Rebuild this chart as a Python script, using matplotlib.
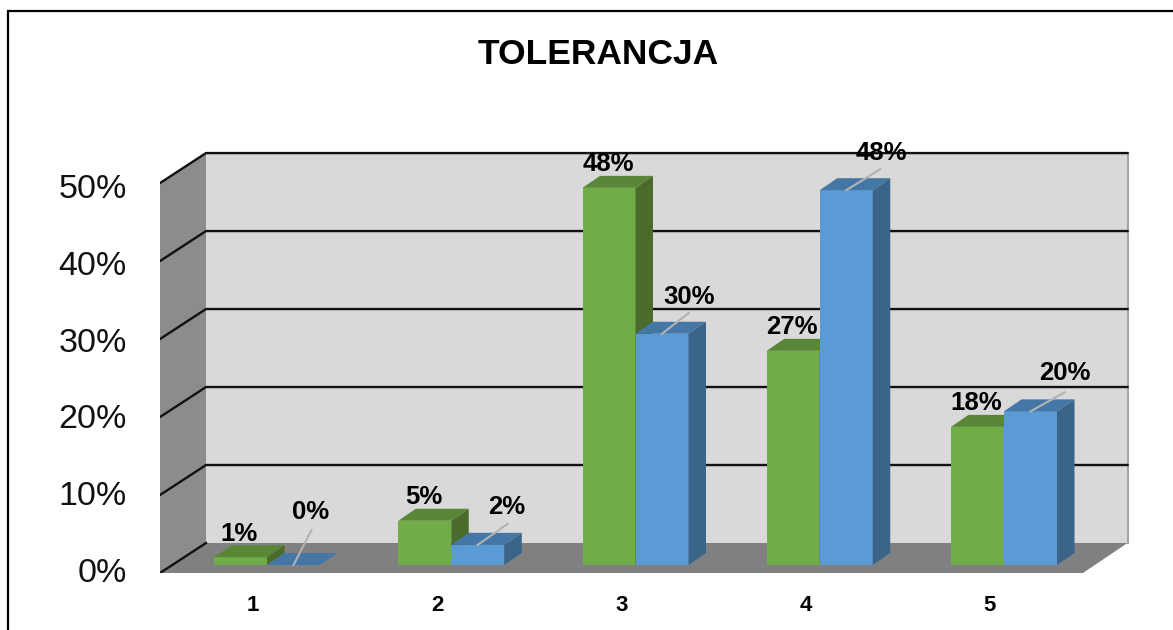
import matplotlib
matplotlib.use("Agg")
import matplotlib.pyplot as plt
from matplotlib.lines import Line2D
from matplotlib.patches import Polygon

plt.rcParams['font.family'] = ['Liberation Sans', 'DejaVu Sans']

# values
categories = [1, 2, 3, 4, 5]
green_values = [1.0, 5.7, 48.6, 27.6, 17.8]
blue_values = [0.0, 2.6, 29.8, 48.3, 19.8]
green_labels = ["1%", "5%", "48%", "27%", "18%"]
blue_labels = ["0%", "2%", "30%", "48%", "20%"]
y_ticks = [0, 10, 20, 30, 40, 50]
y_tick_labels = ["0%", "10%", "20%", "30%", "40%", "50%"]

W, H = 1173, 630
PX_X = 184.25   # pixels per category
PX_Y = 7.76     # pixels per percent

fig = plt.figure(figsize=(W / 100, H / 100), dpi=100)
ax = fig.add_axes([160 / W, (H - 573) / H, (W - 160) / W, 573 / H])
ax.set_xlim(1 - 107 / PX_X, 1 + 906 / PX_X)
ax.set_ylim(0, 573 / PX_Y)
for s in ax.spines.values():
    s.set_visible(False)
ax.patch.set_visible(False)


def dx(px):
    return px / PX_X


def dy(px):
    return px / PX_Y


# walls and floor
x0 = ax.get_xlim()[0]
x_front_r = x0 + dx(923)
wall_dx, wall_dy = dx(46), dy(30)
x_back_l = x0 + wall_dx
x_back_r = x_front_r + dx(44.5)
top = 50.25

ax.add_patch(Polygon([(x0, 0), (x_back_l, wall_dy), (x_back_l, wall_dy + top), (x0, top)],
                     fc="#8c8c8c", ec="none", zorder=1))
ax.add_patch(Polygon([(x_back_l, wall_dy), (x_back_r, wall_dy), (x_back_r, wall_dy + top), (x_back_l, wall_dy + top)],
                     fc="#d9d9d9", ec="none", zorder=1))
ax.add_patch(Polygon([(x0, 0), (x_front_r, 0), (x_back_r, wall_dy), (x_back_l, wall_dy)],
                     fc="#808080", ec="none", zorder=1))
ax.plot([x_back_r, x_back_r], [wall_dy, wall_dy + top], color="#a6a6a6", lw=1.5, zorder=2)

# gridlines
for t in y_ticks:
    yy = t * 50.25 / 50
    ax.plot([x0, x_back_l, x_back_r if t > 0 else x_back_l], [yy, yy + wall_dy, yy + wall_dy],
            color="#111111", lw=1.7, zorder=2, solid_joinstyle="miter")

# bars
bar_w = dx(53)
base = dy(8)
depth_x, depth_y = dx(17.5), dy(12)


def draw_bars(xs, values, face, roof, side):
    ax.bar(xs, values, width=bar_w, bottom=base, color=face, zorder=3)
    for x, v in zip(xs, values):
        l, r = x - bar_w / 2, x + bar_w / 2
        t = base + v
        ax.add_patch(Polygon([(l, t), (r, t), (r + depth_x, t + depth_y), (l + depth_x, t + depth_y)],
                             fc=roof, ec="none", zorder=3))
        ax.add_patch(Polygon([(r, base), (r + depth_x, base + depth_y), (r + depth_x, t + depth_y), (r, t)],
                             fc=side, ec="none", zorder=3))


x_green = [c - bar_w / 2 for c in categories]
x_blue = [c + bar_w / 2 for c in categories]

# category by category, so a later bar hides the side of the one before
for i in range(len(categories)):
    draw_bars([x_green[i]], [green_values[i]], "#70ad47", "#5a8638", "#4a6b2c")
    draw_bars([x_blue[i]], [blue_values[i]], "#5b9bd5", "#4577a6", "#3a6488")

# data labels, offsets in pixels from the top of the front face
blue_label_off = [(17, 53), (29, 38), (27, 37), (35, 37), (34, 38)]
blue_leader_end = [(18, 35), (30, 21), (27, 21), (34, 21), (34, 19)]

for x, v, lab in zip(x_green, green_values, green_labels):
    ax.annotate(lab, (x, base + v), xytext=(-1 * 0.72, 23.5 * 0.72), textcoords="offset points",
                ha="center", va="center", fontsize=18.5, fontweight="bold", color="black",
                annotation_clip=False, zorder=5)

for x, v, lab, off, end in zip(x_blue, blue_values, blue_labels, blue_label_off, blue_leader_end):
    t = base + v
    ax.plot([x, x + dx(end[0])], [t, t + dy(end[1])], color="#b3b3b3", lw=1.5, zorder=4)
    ax.annotate(lab, (x, t), xytext=(off[0] * 0.72, off[1] * 0.72), textcoords="offset points",
                ha="center", va="center", fontsize=18.5, fontweight="bold", color="black",
                annotation_clip=False, zorder=5)

# axes text, the labels sit a little off the gridlines in the original
ax.set_yticks([dy(3 + t * 7.68) for t in y_ticks])
ax.set_yticklabels(y_tick_labels, fontsize=24.5, color="#111111")
ax.set_xticks([c - dx(14) for c in categories])
ax.set_xticklabels([str(c) for c in categories], fontsize=16, fontweight="bold")
ax.tick_params(axis="y", length=0, pad=24)
ax.tick_params(axis="x", length=0, pad=15.5)

fig.text(598 / W, 1 - 54 / H, "TOLERANCJA", ha="center", va="center", fontsize=25.5, fontweight="bold")

# picture frame
fig.add_artist(Line2D([8 / W, 8 / W, 1], [0, 1 - 11 / H, 1 - 11 / H], color="black", lw=1.6,
                      solid_joinstyle="miter"))

fig.savefig("out.png", dpi=100, facecolor="white")
